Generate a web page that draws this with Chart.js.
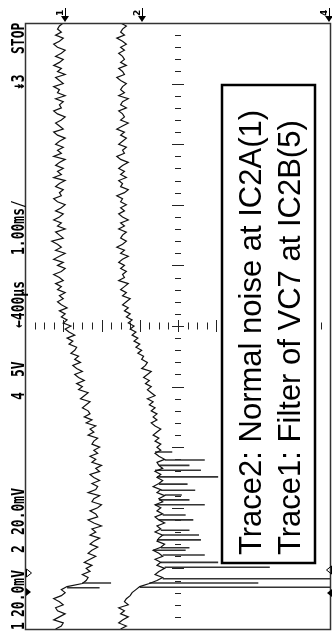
<!DOCTYPE html>
<html>
<head>
<meta charset="utf-8">
<script src="https://cdn.jsdelivr.net/npm/chart.js"></script>
<style>
  html, body { margin: 0; padding: 0; background: #fff; }
  canvas { display: block; }
</style>
</head>
<body>
<canvas id="scope" width="332" height="633"></canvas>
<script>
// Scope samples in mV, one sample every 0.05 div of time (time runs bottom -> top)
const trace1 = [
  64, 61, 60, 65, 62, 59, 63, 64, 60, 62,
  65, 61, 59, 61, 58, 50, 48, 47, 50, 46,
  48, 45, 49, 46, 43, 47, 45, 42, 46, 44,
  41, 46, 43, 45, 40, 44, 47, 42, 43, 46,
  42, 40, 45, 44, 41, 47, 43, 42, 45, 41,
  44, 46, 41, 43, 40, 45, 43, 46, 42, 44,
  41, 45, 44, 42, 47, 44, 46, 43, 48, 45,
  49, 46, 47, 50, 48, 46, 51, 49, 47, 52,
  50, 53, 49, 52, 54, 50, 53, 55, 51, 54,
  52, 56, 54, 53, 57, 55, 58, 54, 57, 59,
  56, 60, 58, 61, 59, 62, 58, 61, 63, 60,
  62, 59, 63, 61, 64, 60, 62, 65, 61, 59,
  63, 60, 65, 62, 59, 64, 61, 63, 66, 60,
  62, 64, 59, 63, 61, 65, 62, 60, 64, 61,
  59, 63, 65, 61, 62, 60, 64, 62, 59, 65,
  61, 63, 60, 64, 62, 59, 65, 61, 63, 60,
  64, 62, 59, 63, 65, 60, 62, 64, 61, 59,
  63, 65, 61, 62, 60, 64, 59, 63, 62, 65,
  60, 62, 64, 59, 63, 61, 65, 62, 60, 64,
  61, 59, 63, 65, 62, 60, 64, 61, 63, 62, 60
];

const trace2 = [
  30, 27, 31, 29, 26, 30, 28, 31, 26, 28,
  27, 25, 24, 22, 20, 15, 11, 8, 12, 10,
  7, 11, 9, 12, 8, 10, 13, 9, 7, 11,
  10, 8, 12, 9, 11, 7, 10, 12, 8, 11,
  9, 12, 8, 10, 7, 11, 9, 13, 10, 8,
  11, 9, 12, 8, 10, 11, 7, 10, 12, 9,
  11, 9, 12, 10, 13, 11, 9, 12, 14, 11,
  13, 11, 14, 12, 15, 13, 16, 12, 14, 16,
  14, 17, 15, 18, 16, 14, 19, 17, 16, 19,
  18, 21, 19, 22, 20, 23, 21, 24, 22, 25,
  23, 26, 24, 27, 25, 28, 26, 29, 27, 25,
  29, 27, 30, 28, 26, 31, 28, 29, 27, 30,
  28, 31, 29, 26, 30, 28, 32, 29, 27, 30,
  29, 27, 31, 28, 30, 26, 29, 31, 28, 30,
  27, 30, 29, 32, 28, 26, 30, 29, 31, 27,
  30, 28, 31, 29, 26, 30, 32, 28, 29, 27,
  31, 29, 27, 30, 28, 32, 29, 26, 30, 28,
  29, 31, 27, 30, 29, 26, 31, 28, 30, 29,
  27, 30, 32, 28, 29, 31, 27, 30, 28, 29,
  31, 28, 30, 27, 29, 32, 28, 30, 29, 27, 30
];

// glitches (time in div, peak in mV)
const glitchTimes1 = [0.68, 0.76];
const glitchPeaks1 = [41, 35];
const glitchTimes2 = [0.69, 0.76, 0.83, 1.02, 1.10, 1.22, 1.30, 1.34, 1.47, 1.55, 1.63, 1.80,
                      1.88, 2.05, 2.13, 2.21, 2.29, 2.39, 2.51, 2.62, 2.70, 2.79, 2.92];
const glitchPeaks2 = [-85, -42, -85, -48, -21, -14, -4, -6, -12, -11, -6, -8,
                      -4, -14, -6, -2, -9, -5, -21, -12, -6, -14, 3];

const sampleStep = 0.05; // divisions per sample

const noteLines = ['Trace2: Normal noise at IC2A(1)', 'Trace1: Filter of VC7 at IC2B(5)'];
const headerLabels = ['1', '20.0mV', '2', '20.0mV', '4', '5V', '\u2190400\u00b5s', '1.00ms/', '\u21a13', 'STOP'];

function toPoints(values) {
    return values.map((v, i) => ({ x: v, y: i * sampleStep }));
}

function glitchPoints(trace, times, peaks) {
    const pts = [];
    times.forEach((t, i) => {
        const base = trace[Math.round(t / sampleStep)];
        pts.push({ x: base, y: t }, { x: peaks[i], y: t }, { x: NaN, y: NaN });
    });
    return pts;
}

// center cross ticks (scope graticule)
const graticule = {
    id: 'graticule',
    beforeDatasetsDraw(chart) {
        const { ctx, scales: { x, y } } = chart;
        const cx = x.getPixelForValue(0);
        const cy = y.getPixelForValue(5);
        ctx.save();
        ctx.strokeStyle = '#222';
        ctx.lineWidth = 1;
        ctx.beginPath();
        for (let k = 1; k < 50; k++) {
            const py = Math.round(y.getPixelForValue(k * 0.2)) + 0.5;
            const half = k % 5 === 0 ? 6 : 3;
            ctx.moveTo(cx - half, py);
            ctx.lineTo(cx + half, py);
        }
        for (let k = -15; k <= 15; k++) {
            const px = Math.round(x.getPixelForValue(k * 5)) + 0.5;
            const half = k % 4 === 0 ? 6 : 3.5;
            ctx.moveTo(px, cy - half);
            ctx.lineTo(px, cy + half);
        }
        ctx.stroke();
        ctx.restore();
    }
};

const decorations = {
    id: 'decorations',
    afterDraw(chart) {
        const { ctx, chartArea: a } = chart;
        ctx.save();

        // frame
        ctx.strokeStyle = '#333';
        ctx.lineWidth = 1.5;
        ctx.strokeRect(a.left + 0.5, a.top + 0.5, a.right - a.left - 1, a.bottom - a.top);

        // note box
        ctx.fillStyle = '#fff';
        ctx.fillRect(222, 85, 93, 478);
        ctx.strokeStyle = '#000';
        ctx.lineWidth = 2.5;
        ctx.strokeRect(222, 85, 93, 478);
        ctx.fillStyle = '#000';
        ctx.font = '31px "Liberation Sans", Arial, sans-serif';
        ctx.textBaseline = 'alphabetic';
        ctx.textAlign = 'left';
        [261, 300].forEach((bx, i) => {
            ctx.save();
            ctx.translate(bx, 555);
            ctx.rotate(-Math.PI / 2);
            ctx.fillText(noteLines[i], 0, 0);
            ctx.restore();
        });

        // header text along the left edge
        const starts = [630, 617, 553, 535, 400, 377, 328, 255, 90, 54];
        ctx.font = 'bold 13px "DejaVu Sans Mono", monospace';
        headerLabels.forEach((t, i) => {
            ctx.save();
            ctx.translate(24, starts[i]);
            ctx.rotate(-Math.PI / 2);
            ctx.scale(1, 1.35);
            ctx.fillText(t, 0, 0);
            ctx.restore();
        });

        // ground markers at top
        ctx.font = 'bold 9px "DejaVu Sans", sans-serif';
        [['1', 65], ['2', 142], ['4', 329]].forEach(([lab, mx]) => {
            ctx.beginPath();
            ctx.moveTo(mx - 4, 16);
            ctx.lineTo(mx + 4, 16);
            ctx.lineTo(mx, 22);
            ctx.closePath();
            ctx.fill();
            ctx.lineWidth = 1;
            ctx.beginPath();
            ctx.moveTo(mx + 0.5, 8);
            ctx.lineTo(mx + 0.5, 17);
            ctx.stroke();
            ctx.save();
            ctx.translate(mx - 2, 16);
            ctx.rotate(-Math.PI / 2);
            ctx.fillText(lab, 0, 0);
            ctx.restore();
        });

        // trigger markers at both edges
        ctx.lineWidth = 1;
        ctx.beginPath();
        ctx.moveTo(26.5, 569); ctx.lineTo(31.5, 573); ctx.lineTo(26.5, 577); ctx.closePath();
        ctx.stroke();
        ctx.beginPath();
        ctx.moveTo(26, 588); ctx.lineTo(31, 592); ctx.lineTo(26, 596); ctx.closePath();
        ctx.fill();
        ctx.beginPath();
        ctx.moveTo(331.5, 566); ctx.lineTo(326.5, 570); ctx.lineTo(331.5, 574); ctx.closePath();
        ctx.stroke();
        ctx.beginPath();
        ctx.moveTo(332, 589); ctx.lineTo(327, 593); ctx.lineTo(332, 597); ctx.closePath();
        ctx.fill();

        ctx.restore();
    }
};

const ctx = document.getElementById('scope').getContext('2d');
new Chart(ctx, {
    type: 'scatter',
    data: {
        datasets: [
            {
                label: 'Trace1',
                data: toPoints(trace1),
                showLine: true,
                borderColor: '#111',
                borderWidth: 1.2,
                pointRadius: 0
            },
            {
                label: 'Trace2',
                data: toPoints(trace2),
                showLine: true,
                borderColor: '#111',
                borderWidth: 1.2,
                pointRadius: 0
            },
            {
                label: 'Glitches',
                data: glitchPoints(trace1, glitchTimes1, glitchPeaks1)
                    .concat(glitchPoints(trace2, glitchTimes2, glitchPeaks2)),
                showLine: true,
                spanGaps: false,
                borderColor: '#333',
                borderWidth: 1.6,
                pointRadius: 0
            }
        ]
    },
    options: {
        responsive: false,
        animation: false,
        devicePixelRatio: 1,
        layout: { padding: { left: 25, top: 23, right: 1, bottom: 4 } },
        scales: {
            x: { type: 'linear', min: -80, max: 80, reverse: true, display: false },
            y: { type: 'linear', min: 0, max: 10, display: false }
        },
        plugins: {
            legend: { display: false },
            tooltip: { enabled: false }
        }
    },
    plugins: [graticule, decorations]
});
</script>
</body>
</html>
